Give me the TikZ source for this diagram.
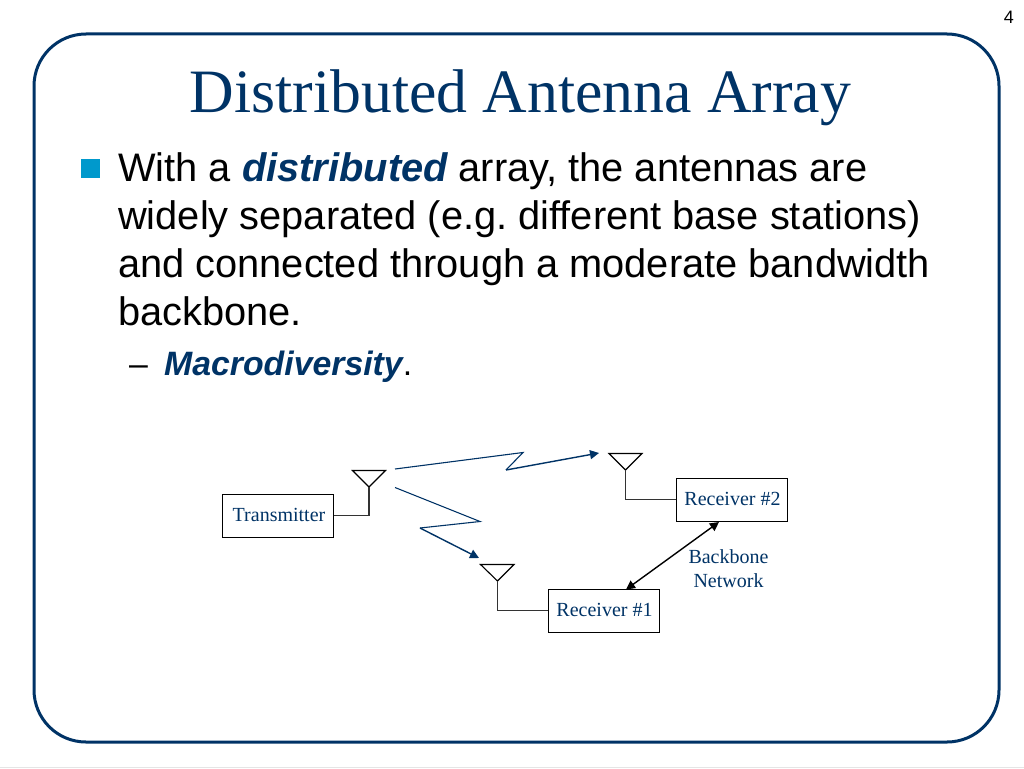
\documentclass[tikz,border=0pt]{standalone}
\usepackage{fontspec}
\setmainfont{Liberation Serif}
\newfontfamily\arialf{Liberation Sans}
\usetikzlibrary{arrows.meta}
\definecolor{navy}{RGB}{0,51,102}
\definecolor{bullet}{RGB}{0,153,204}
\frenchspacing
\tikzset{
  x=1pt,y=-1pt,
  boxnode/.style={draw=black,line width=1pt,minimum width=111pt,minimum height=43pt,inner sep=0pt,text=navy,font=\fontsize{20}{20}\selectfont},
  antenna/.style={draw=black,line width=1.1pt},
  feed/.style={draw=black!80,line width=1.1pt},
  radio/.style={draw=navy,line width=1.1pt},
  radioarrow/.style={draw=navy,line width=1.4pt,-{Triangle[length=9pt,width=9pt]}},
  backbone/.style={draw=black,line width=1.4pt,{Triangle[length=9pt,width=9pt]}-{Triangle[length=9pt,width=9pt]}},
  body/.style={anchor=base west,inner sep=0pt,font=\arialf\fontsize{39.8}{40}\selectfont},
  sub/.style={anchor=base west,inner sep=0pt,font=\arialf\fontsize{33.8}{34}\selectfont},
  small/.style={text=navy,font=\fontsize{20}{24}\selectfont,align=center,inner sep=0pt}
}
\begin{document}
\begin{tikzpicture}
\useasboundingbox (0,0) rectangle (1024,768);
\fill[white] (0,0) rectangle (1024,768);
\draw[black!10,line width=1pt] (0,767.5) -- (1024,767.5);
\draw[navy,line width=3pt,rounded corners=52pt] (34,34) rectangle (999,742);
\node[anchor=base,inner sep=0pt,text=navy,font=\fontsize{61.7}{62}\selectfont] (title) at (520.5,112.5) {Distributed Antenna Array};
\node[anchor=base east,inner sep=0pt,font=\arialf\fontsize{18}{18}\selectfont] (page) at (1014,24) {4};
\fill[bullet] (81,159) rectangle (100,178);
\node[body] (l1) at (118,181) {With a \textcolor{navy}{\itshape\bfseries distributed} array, the antennas are};
\node[body] (l2) at (118,229) {widely separated (e.g. different base stations)};
\node[body] (l3) at (118,277) {and connected through a moderate bandwidth};
\node[body] (l4) at (118,325) {backbone.};
\node[sub] (dash) at (129,375.5) {–};
\node[sub] (l5) at (164,375.5) {\textcolor{navy}{\itshape\bfseries Macrodiversity}.};

\node[boxnode] (tx) at (277.5,515.5) {\hspace*{3pt}\raisebox{1pt}{Transmitter}};
\node[boxnode] (r2) at (732,499.5) {\hspace*{1pt}\raisebox{1pt}{Receiver \#2}};
\node[boxnode] (r1) at (604,610.5) {\hspace*{1pt}\raisebox{1pt}{Receiver \#1}};
\node[small] (bb) at (728.5,569) {Backbone\\Network};

\coordinate (a0) at (369,487);
\coordinate (a1) at (625.5,470);
\coordinate (a2) at (497.5,581);
\draw[antenna] (352.5,470.5) -- (385.5,470.5) -- (a0) -- cycle;
\draw[antenna] (609,453.5) -- (642,453.5) -- (a1) -- cycle;
\draw[antenna] (480.5,564.5) -- (514,564.5) -- (a2) -- cycle;
\draw[feed] (a0) |- (tx.east);
\draw[feed] (a1) |- (r2.west);
\draw[feed] (a2) |- (r1.west);

\coordinate (z1) at (395,469);
\coordinate (z2) at (523,452.5);
\coordinate (z3) at (506,470);
\coordinate (z4) at (599,453);
\draw[radio] (z1) -- (z2) -- (z3);
\draw[radioarrow] (z3) -- (z4);
\coordinate (y1) at (395,487.5);
\coordinate (y2) at (480,521.5);
\coordinate (y3) at (420,528);
\coordinate (y4) at (479,558);
\draw[radio] (y1) -- (y2) -- (y3);
\draw[radioarrow] (y3) -- (y4);
\path (r1.north) ++(22,1) coordinate (b1) (r2.south) ++(-13,0.5) coordinate (b2);
\draw[backbone] (b1) -- (b2);
\end{tikzpicture}
\end{document}
